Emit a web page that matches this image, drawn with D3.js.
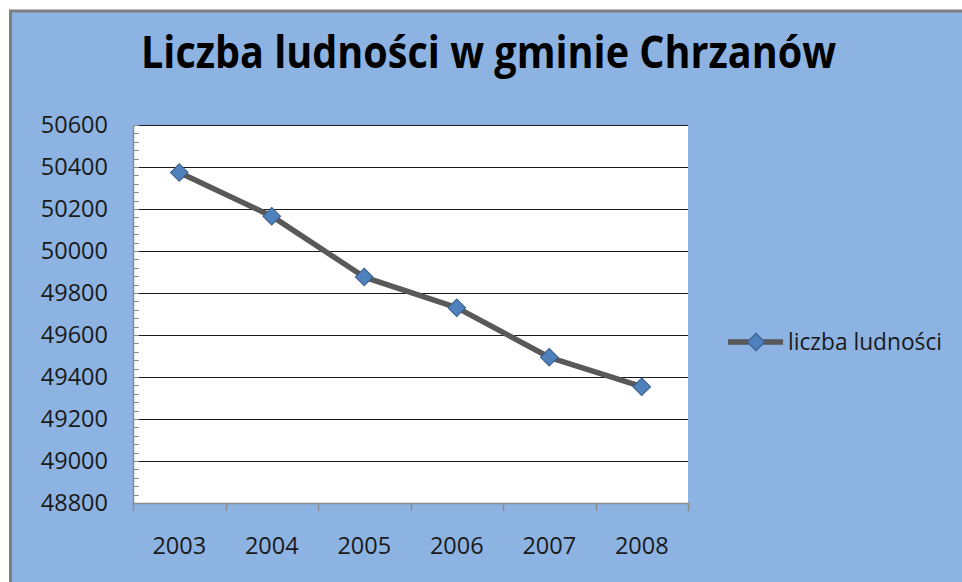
<!DOCTYPE html>
<html>
<head>
<meta charset="utf-8">
<script src="https://cdn.jsdelivr.net/npm/d3@7"></script>
<style>
  html, body { margin: 0; padding: 0; background: #fff; }
  svg { display: block; }
</style>
</head>
<body>
<div class="chart"></div>
<script>
const title = "Liczba ludności w gminie Chrzanów";
const seriesName = "liczba ludności";
const years = ["2003", "2004", "2005", "2006", "2007", "2008"];
const population = [50374, 50166, 49876, 49730, 49494, 49354];
const yTicks = [48800, 49000, 49200, 49400, 49600, 49800, 50000, 50200, 50400, 50600];

const width = 962;
const height = 582;
const margin = {top: 125, right: 274, bottom: 79, left: 133};

const svg = d3.select(".chart")
    .append("svg")
    .attr("width", width)
    .attr("height", height);

// chart background with border
svg.append("rect")
    .attr("x", 10.5)
    .attr("y", 11)
    .attr("width", width)
    .attr("height", height)
    .attr("fill", "#8DB3E2")
    .attr("stroke", "#7f7f7f")
    .attr("stroke-width", 3);

const x = d3.scaleBand()
    .domain(years)
    .range([margin.left, width - margin.right]);

const y = d3.scaleLinear()
    .domain([d3.min(yTicks), d3.max(yTicks)])
    .range([height - margin.bottom, margin.top]);

// plot area
svg.append("rect")
    .attr("x", margin.left)
    .attr("y", margin.top)
    .attr("width", width - margin.right - margin.left)
    .attr("height", height - margin.bottom - margin.top)
    .attr("fill", "white");

// gridlines
svg.append("g")
    .selectAll("line")
    .data(yTicks.slice(1))
    .enter()
    .append("line")
    .attr("x1", margin.left)
    .attr("x2", width - margin.right)
    .attr("y1", d => Math.round(y(d)) + 0.5)
    .attr("y2", d => Math.round(y(d)) + 0.5)
    .attr("stroke", "#1a1a1a")
    .attr("stroke-width", 1.2);

// minor ticks on the y axis (every 40)
const minor = d3.range(d3.min(yTicks), d3.max(yTicks) + 1, 40);
svg.append("g")
    .selectAll("line")
    .data(minor)
    .enter()
    .append("line")
    .attr("x1", margin.left)
    .attr("x2", margin.left + 6)
    .attr("y1", d => Math.round(y(d)) + 0.5)
    .attr("y2", d => Math.round(y(d)) + 0.5)
    .attr("stroke", "#8c8c8c")
    .attr("stroke-width", 1);

// y axis
const yAxis = svg.append("g")
    .attr("transform", `translate(${margin.left}, 0)`)
    .call(d3.axisLeft(y).tickValues(yTicks).tickSize(0).tickPadding(25).tickFormat(d3.format("d")));
yAxis.select(".domain").attr("stroke", "#8c8c8c").attr("stroke-width", 1.5);
yAxis.selectAll("text")
    .attr("fill", "#1a1a1a")
    .style("font-family", "'Open Sans', sans-serif")
    .style("font-size", "23.5px");

// x axis
const xAxis = svg.append("g")
    .attr("transform", `translate(0, ${height - margin.bottom})`)
    .call(d3.axisBottom(x).tickSize(0).tickPadding(34));
xAxis.select(".domain").attr("stroke", "#8c8c8c").attr("stroke-width", 1.5);
xAxis.selectAll("text")
    .attr("fill", "#1a1a1a")
    .style("font-family", "'Open Sans', sans-serif")
    .style("font-size", "23.5px");

// x ticks at category boundaries
const bounds = years.map(d => x(d)).concat([x(years[years.length - 1]) + x.bandwidth()]);
svg.append("g")
    .selectAll("line")
    .data(bounds)
    .enter()
    .append("line")
    .attr("x1", d => Math.round(d) + 0.5)
    .attr("x2", d => Math.round(d) + 0.5)
    .attr("y1", height - margin.bottom)
    .attr("y2", height - margin.bottom + 8)
    .attr("stroke", "#8c8c8c")
    .attr("stroke-width", 1.5);

// series line
const data = years.map((d, i) => ({year: d, value: population[i]}));
const line = d3.line()
    .x(d => x(d.year) + x.bandwidth() / 2)
    .y(d => y(d.value));

svg.append("path")
    .datum(data)
    .attr("d", line)
    .attr("fill", "none")
    .attr("stroke", "#595959")
    .attr("stroke-width", 5.5)
    .attr("stroke-linejoin", "round");

const diamond = d3.symbol().type(d3.symbolSquare).size(155);

svg.append("g")
    .selectAll("path")
    .data(data)
    .enter()
    .append("path")
    .attr("d", diamond)
    .attr("transform", d => `translate(${x(d.year) + x.bandwidth() / 2}, ${y(d.value)}) rotate(45)`)
    .attr("fill", "#4F81BD")
    .attr("stroke", "#385D8A")
    .attr("stroke-width", 1);

// legend
const legend = svg.append("g").attr("transform", "translate(728, 342)");
legend.append("line")
    .attr("x1", 0)
    .attr("x2", 55)
    .attr("stroke", "#595959")
    .attr("stroke-width", 5.5);
legend.append("path")
    .attr("d", diamond)
    .attr("transform", "translate(28, 0) rotate(45)")
    .attr("fill", "#4F81BD")
    .attr("stroke", "#385D8A")
    .attr("stroke-width", 1);
legend.append("text")
    .attr("x", 60)
    .attr("y", 8)
    .attr("fill", "#1a1a1a")
    .style("font-family", "'Open Sans', sans-serif")
    .style("font-size", "23px")
    .attr("textLength", 154)
    .attr("lengthAdjust", "spacingAndGlyphs")
    .text(seriesName);

// title
svg.append("text")
    .attr("x", 141)
    .attr("y", 68)
    .attr("fill", "#000")
    .style("font-family", "'Open Sans', sans-serif")
    .style("font-weight", "bold")
    .style("font-size", "45px")
    .attr("textLength", 695)
    .attr("lengthAdjust", "spacingAndGlyphs")
    .text(title);
</script>
</body>
</html>
